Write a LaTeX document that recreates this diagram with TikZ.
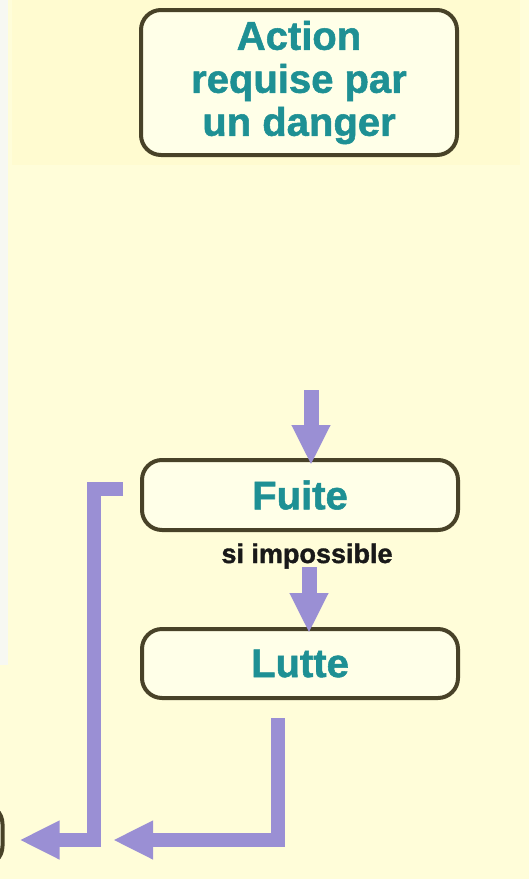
\documentclass[tikz,border=0pt]{standalone}
\usepackage{fontspec}
\setmainfont{Liberation Sans}
\newfontfamily\heavyfont[FakeBold=1.3]{Liberation Sans Bold}
\usetikzlibrary{arrows.meta}
\definecolor{bgyel}{RGB}{255,253,217}
\definecolor{bgtop}{RGB}{255,251,208}
\definecolor{bgstrip}{RGB}{247,248,242}
\definecolor{boxfill}{RGB}{255,255,232}
\definecolor{boxline}{RGB}{72,66,40}
\definecolor{tealtxt}{RGB}{30,144,148}
\definecolor{lav}{RGB}{154,143,212}
\tikzset{
  stepbox/.style={draw=boxline, line width=4pt, fill=boxfill, rounded corners=20pt,
    minimum width=316pt, align=center, inner sep=0pt,
    font=\heavyfont\fontsize{40}{43}\selectfont, text=tealtxt},
  flowarrow/.style={draw=lav, line width=15pt, line join=miter,
    -{Triangle[length=40pt,width=36pt]}},
  note/.style={font=\heavyfont\fontsize{27}{30}\selectfont, text=black!90, inner sep=0pt}
}
\begin{document}
\begin{tikzpicture}[x=1pt,y=-1pt]
\useasboundingbox (0,0) rectangle (529,879);
% background
\fill[bgyel] (0,0) rectangle (529,879);
\fill[bgtop] (12,0) rectangle (520,165);
\fill[bgstrip] (0,0) rectangle (8,665);
% boxes
\node[stepbox, minimum height=145pt] (action) at (299,82.5) {Action\\requise par\\un danger};
\node[stepbox, minimum height=70pt] (fuite) at (300,495) {Fuite};
\node[stepbox, minimum height=69pt] (lutte) at (300,663.5) {Lutte};
\node[note, anchor=base] (imp) at (307,563) {si impossible};
% partially visible box at the left edge
\node[draw=boxline, line width=4pt, fill=boxfill, rounded corners=20pt,
  minimum width=125pt, minimum height=62pt] (offbox) at (-60,835) {};
% arrows
\coordinate (a1) at (311,390);
\draw[flowarrow] (a1) -- ([yshift=-7pt]a1 |- fuite.north);
\coordinate (a2) at (309,567);
\draw[flowarrow] (a2) -- ([yshift=-6pt]a2 |- lutte.north);
% left bracket from Fuite
\coordinate (f1) at (123,489);
\coordinate (f2) at (94,489);
\coordinate (f3) at (94,840);
\draw[flowarrow, line width=14pt] (f1) -- (f2) -- (f3) -- ([xshift=15pt]offbox.east |- f3);
% bracket from Lutte
\coordinate (l1) at (278,718);
\coordinate (l2) at (278,840);
\coordinate (l3) at (113,840);
\draw[flowarrow, line width=14pt] (l1) -- (l2) -- (l3);
\end{tikzpicture}
\end{document}
